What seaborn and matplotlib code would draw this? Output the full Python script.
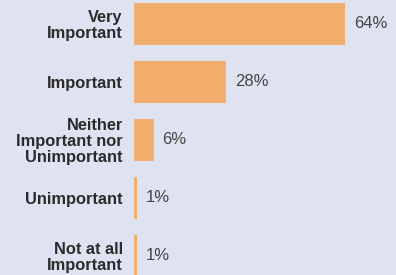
import matplotlib
matplotlib.use("Agg")
import matplotlib.pyplot as plt
import seaborn as sns
import pandas as pd

# Survey answers and shares (percent)
categories = ["Very\nImportant", "Important", "Neither\nImportant nor\nUnimportant",
              "Unimportant", "Not at all\nImportant"]
shares = [64, 28, 6, 1, 1]
share_labels = ["64%", "28%", "6%", "1%", "1%"]

bg = "#dfe3f1"
bar_color = "#f2ae6c"

sns.set_style("white")
plt.rcParams["font.family"] = ["Liberation Sans", "DejaVu Sans"]

df = pd.DataFrame({"answer": categories, "share": shares})

fig = plt.figure(figsize=(3.96, 2.75), dpi=100, facecolor=bg)
ax = fig.add_axes([134 / 396, 0, 262 / 396, 1])
ax.set_facecolor(bg)

sns.barplot(data=df, x="share", y="answer", color=bar_color, width=0.73,
            saturation=1, linewidth=0, ax=ax)

for i, (v, lab) in enumerate(zip(shares, share_labels)):
    ax.text(v + 2.6, i, lab, va="center", ha="left", fontsize=12, color="#444444")

ax.set_xlim(0, 79.4)
ax.set_ylim(4.33, -0.414)
ax.set_xlabel("")
ax.set_ylabel("")
ax.set_xticks([])
ax.tick_params(axis="y", length=0, pad=8)
for t in ax.get_yticklabels():
    t.set_fontweight("bold")
    t.set_fontsize(11.8)
    t.set_color("#2b2b2b")
    t.set_linespacing(1.08)
    t.set_horizontalalignment("right")
sns.despine(ax=ax, left=True, bottom=True)

fig.savefig("out.png", dpi=100, facecolor=bg)
